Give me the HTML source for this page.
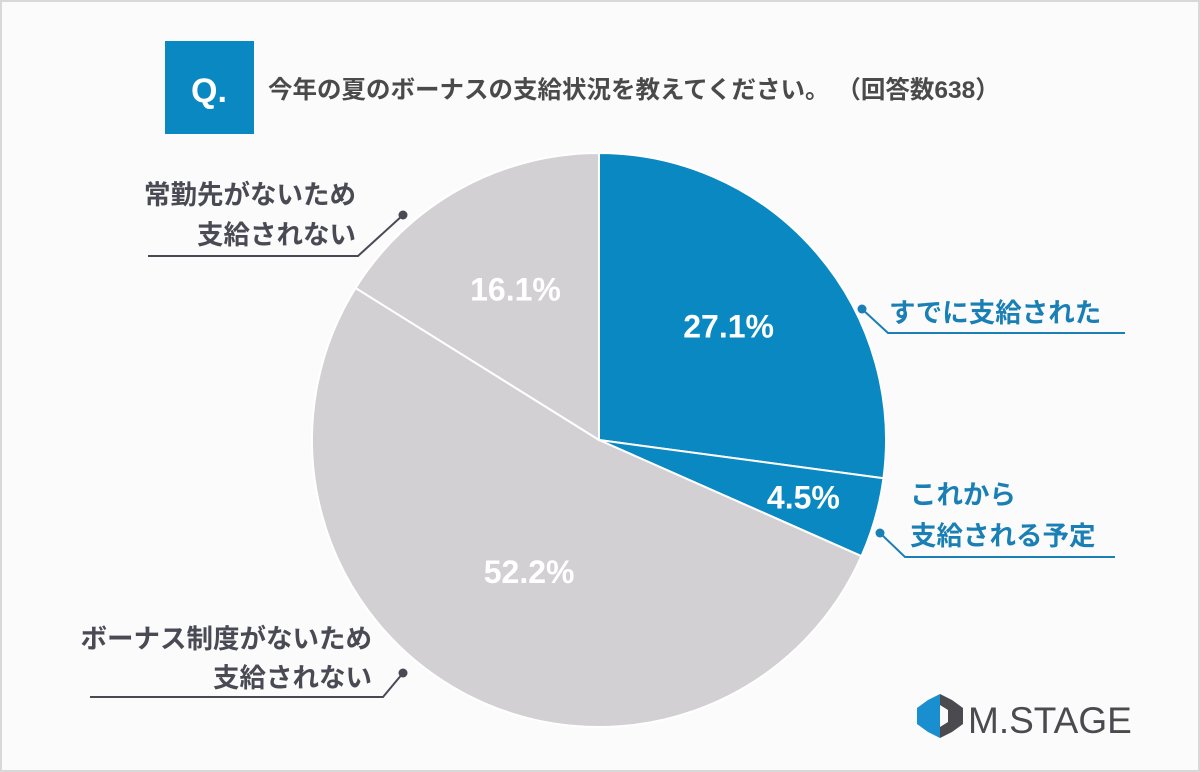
<!DOCTYPE html>
<html><head><meta charset="utf-8"><style>
html,body{margin:0;padding:0;background:#fff}
#wrap{position:relative;width:1200px;height:772px;background:#fbfbfb;box-sizing:border-box;border:2px solid #d8d8d8;overflow:hidden}
svg text{font-family:"Liberation Sans","Noto Sans CJK JP",sans-serif}
</style></head><body>
<div id="wrap">
<svg id="chart" width="1200" height="772" viewBox="0 0 1200 772" style="position:absolute;left:-2px;top:-2px">
  <rect x="165" y="41" width="89" height="93" fill="#0a88c2"/>
  <text x="209" y="102" fill="#fff" font-size="34" font-weight="bold" text-anchor="middle">Q.</text>
  <text x="268" y="98" fill="#4a4a4a" font-size="24.5" font-weight="bold">今年の夏のボーナスの支給状況を教えてください。 （回答数638）</text>
  <g id="slices"></g>
  <g id="labels"></g>
  <g>
    <polygon points="928,700 940,694 940,738 928,732 917,724 917,708" fill="#1a8fcf"/>
    <polygon points="940,694 952,700 963,708 963,724 952,732 940,738 940,727 948,722 948,710 940,705" fill="#4a4a4f"/>
    <text x="968" y="733" fill="#4a4a4f" font-size="37">M.STAGE</text>
  </g>
</svg>
</div>
<script>
const categories = ["すでに支給された","これから支給される予定","ボーナス制度がないため支給されない","常勤先がないため支給されない"];
const values = [27.1, 4.5, 52.2, 16.1];
const valueLabels = ["27.1%","4.5%","52.2%","16.1%"];
const colors = ["#0a88c2","#0a88c2","#d3d0d4","#d3d0d4"];
const cx=599, cy=440, r=287;
const NS="http://www.w3.org/2000/svg";
const total = values.reduce((a,b)=>a+b,0);
function pt(frac, rad){const a=frac*2*Math.PI-Math.PI/2;return [cx+rad*Math.cos(a), cy+rad*Math.sin(a)];}
const g=document.getElementById('slices');
let acc=0;
const labelR=[0.6,0.74,0.52,0.6];
values.forEach((v,i)=>{
  const f0=acc/total, f1=(acc+v)/total; acc+=v;
  const p0=pt(f0,r), p1=pt(f1,r);
  const large=(f1-f0)>0.5?1:0;
  const path=document.createElementNS(NS,'path');
  path.setAttribute('d',`M${cx},${cy} L${p0[0]},${p0[1]} A${r},${r} 0 ${large} 1 ${p1[0]},${p1[1]} Z`);
  path.setAttribute('fill',colors[i]);
  path.setAttribute('stroke','#fff');
  path.setAttribute('stroke-width','2');
  
  
  g.appendChild(path);
  const m=pt((f0+f1)/2, r*labelR[i]);
  const t=document.createElementNS(NS,'text');
  t.setAttribute('x',m[0]);t.setAttribute('y',m[1]+11);
  t.setAttribute('fill','#fff');t.setAttribute('font-size','32');t.setAttribute('font-weight','bold');
  t.setAttribute('text-anchor','middle');
  
  
  t.textContent=valueLabels[i];
  g.appendChild(t);
});
</script>
<script>
(function(){
const L=document.getElementById('labels');
const ns="http://www.w3.org/2000/svg";
const defs=[
 {pts:"862,309 888,333 1125,333",dot:[862,309],c:"#1a7fb5",lines:[["すでに支給された",889,322,"start"]],name:"callout-paid"},
 {pts:"880,533 905,557 1115,557",dot:[880,533],c:"#1a7fb5",lines:[["これから",910,504,"start"],["支給される予定",910,545,"start"]],name:"callout-planned"},
 {pts:"403,215 358,256 148,256",dot:[403,215],c:"#4a4a55",lines:[["常勤先がないため",356,204,"end"],["支給されない",356,244,"end"]],name:"callout-no-employer"},
 {pts:"403,673 383,697 90,697",dot:[403,673],c:"#4a4a55",lines:[["ボーナス制度がないため",372,648,"end"],["支給されない",372,687,"end"]],name:"callout-no-system"}
];
defs.forEach(d=>{
 const pl=document.createElementNS(ns,'polyline');
 pl.setAttribute('points',d.pts);pl.setAttribute('fill','none');pl.setAttribute('stroke',d.c);pl.setAttribute('stroke-width','2');
 
 
 L.appendChild(pl);
 const c=document.createElementNS(ns,'circle');
 c.setAttribute('cx',d.dot[0]);c.setAttribute('cy',d.dot[1]);c.setAttribute('r','4.5');c.setAttribute('fill',d.c);
 
 
 L.appendChild(c);
 d.lines.forEach(l=>{
  const t=document.createElementNS(ns,'text');
  t.setAttribute('x',l[1]);t.setAttribute('y',l[2]);t.setAttribute('text-anchor',l[3]);
  t.setAttribute('fill',d.c);t.setAttribute('font-size','26.5');t.setAttribute('font-weight','bold');
  
  
  t.textContent=l[0];
  L.appendChild(t);
 });
});
})();
</script>
</body></html>
